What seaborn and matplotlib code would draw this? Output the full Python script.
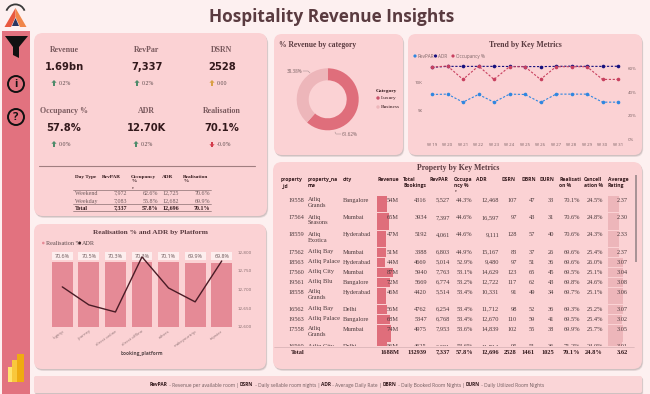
import matplotlib
matplotlib.use("Agg")
import matplotlib.pyplot as plt
from matplotlib.patches import FancyBboxPatch, Polygon, Circle, Rectangle, Wedge
import numpy as np
import pandas as pd
import seaborn as sns

# ---------- data ----------
kpi_names = ["Revenue", "RevPar", "DSRN", "Occupancy %", "ADR", "Realisation"]
kpi_values = ["1.69bn", "7,337", "2528", "57.8%", "12.70K", "70.1%"]
kpi_deltas = ["0.2%", "0.2%", "0.00", "0.0%", "0.2%", "-0.0%"]
kpi_dirs = ["up", "up", "flat", "up", "up", "down"]

day_header = ["Day Type", "RevPAR", "Occupancy\n%", "ADR", "Realisation\n%"]
day_rows = [["Weekend", "7,972", "62.6%", "12,725", "70.6%"],
            ["Weekday", "7,083", "55.8%", "12,682", "69.9%"],
            ["Total", "7,337", "57.8%", "12,696", "70.1%"]]

categories = ["Luxury", "Business"]
category_share = [61.62, 38.38]

weeks = ["W 19", "W 20", "W 21", "W 22", "W 23", "W 24", "W 25", "W 26", "W 27", "W 28", "W 29", "W 30", "W 31"]
revpar = [7880, 7940, 6530, 7880, 6530, 7940, 7880, 6470, 7940, 7940, 7940, 6530, 6530]
adr = [12650, 12820, 12820, 12820, 12820, 12800, 12790, 12780, 12820, 12860, 12820, 12820, 12840]
occupancy = [61.4, 62.3, 50.9, 62.3, 50.9, 61.7, 61.7, 50.9, 61.7, 61.7, 61.7, 50.9, 50.9]

platforms = ["logtrip", "journey", "direct online", "direct offline", "others", "makeyourtrip", "tripster"]
plat_real = [70.6, 70.5, 70.3, 70.3, 70.1, 69.9, 69.8]
plat_real_labels = ["70.6%", "70.5%", "70.3%", "70.3%", "70.1%", "69.9%", "69.8%"]
plat_adr = [12707, 12659, 12640, 12787, 12704, 12667, 12776]

prop_header = ["property\n_id", "property_na\nme", "city", "Revenue", "Total\nBookings", "RevPAR",
               "Occupa\nncy %", "ADR", "DSRN", "DBRN", "DURN", "Realisati\non %", "Cancell\nation %",
               "Average\nRating"]
prop_id = ["19558", "17564", "18559", "17562", "18563", "17560", "19561", "18558", "16562", "19563", "17558", "16560"]
prop_name = ["Atliq\nGrands", "Atliq\nSeasons", "Atliq\nExotica", "Atliq Bay", "Atliq Palace", "Atliq City",
             "Atliq Blu", "Atliq\nGrands", "Atliq Bay", "Atliq Palace", "Atliq\nGrands", "Atliq City"]
prop_city = ["Bangalore", "Mumbai", "Hyderabad", "Mumbai", "Hyderabad", "Mumbai", "Bangalore", "Hyderabad",
             "Delhi", "Bangalore", "Mumbai", "Delhi"]
prop_rev = [54, 65, 47, 51, 44, 87, 72, 46, 56, 68, 74, 56]
prop_book = [4316, 3934, 5192, 3388, 4669, 5940, 5669, 4420, 4762, 5347, 4975, 4625]
prop_revpar = ["5,527", "7,397", "4,061", "6,803", "5,014", "7,763", "6,774", "5,514", "6,254", "6,768", "7,953", "6,281"]
prop_occ = ["44.3%", "44.6%", "44.6%", "44.9%", "52.9%", "53.1%", "53.2%", "53.4%", "53.4%", "53.4%", "53.6%", "53.6%"]
prop_adr = ["12,468", "16,597", "9,111", "15,167", "9,480", "14,629", "12,722", "10,331", "11,712", "12,670", "14,839", "11,714"]
prop_dsrn = [107, 97, 128, 83, 97, 123, 117, 91, 98, 110, 102, 95]
prop_dbrn = [47, 43, 57, 37, 51, 65, 62, 49, 52, 59, 55, 51]
prop_durn = [33, 31, 40, 26, 36, 45, 43, 34, 36, 41, 38, 36]
prop_real = ["70.1%", "70.6%", "70.6%", "69.6%", "69.6%", "69.5%", "69.8%", "69.7%", "69.3%", "69.5%", "69.9%", "71.2%"]
prop_canc = ["24.5%", "24.8%", "24.3%", "25.4%", "26.0%", "25.1%", "24.6%", "25.1%", "25.2%", "25.4%", "25.7%", "24.0%"]
prop_rating = [2.37, 2.30, 2.33, 2.37, 3.07, 3.04, 3.08, 3.06, 3.07, 3.02, 3.05, 3.01]
prop_total = ["Total", "", "", "1688M", "132939", "7,337", "57.8%", "12,696", "2528", "1461", "1025", "70.1%", "24.8%", "3.62"]

footer_parts = [("RevPAR", True), (" - Revenue per available room | ", False), ("DSRN", True),
                (" - Daily sellable room nights | ", False), ("ADR", True), (" - Average Daily Rate | ", False),
                ("DBRN", True), (" - Daily Booked Room Nights | ", False), ("DURN", True),
                (" - Daily Utilized Room Nights", False)]

# ---------- style ----------
W, H = 650, 394
BG = "#FDF0F0"
PANEL = "#FBD2D4"
SIDE = "#E2727F"
DARK = "#5A3B40"
SERIF = "Liberation Serif"
SANS = "Open Sans"
sns.set_theme(style="white", rc={"axes.facecolor": "none", "figure.facecolor": BG})

fig = plt.figure(figsize=(W / 100, H / 100), dpi=100, facecolor=BG)


def axpx(x0, y0, x1, y1, **kw):
    a = fig.add_axes([x0 / W, 1 - y1 / H, (x1 - x0) / W, (y1 - y0) / H], **kw)
    a.patch.set_alpha(0)
    return a


bg = axpx(0, 0, W, H)
bg.set_xlim(0, W)
bg.set_ylim(H, 0)
bg.axis("off")


def panel(x0, y0, x1, y1, r=8, fc=PANEL):
    for off, al in ((2.0, .14), (1.2, .24)):
        bg.add_patch(FancyBboxPatch((x0 + r + off * .6, y0 + r + off), x1 - x0 - 2 * r, y1 - y0 - 2 * r,
                                    boxstyle=f"round,pad={r},rounding_size={r}", fc="#7d6a6c", ec="none", alpha=al))
    bg.add_patch(FancyBboxPatch((x0 + r, y0 + r), x1 - x0 - 2 * r, y1 - y0 - 2 * r,
                                boxstyle=f"round,pad={r},rounding_size={r}", fc=fc, ec="none"))


# sidebar and icons
bg.add_patch(Rectangle((2, 31), 28, H - 31, fc=SIDE, ec="none"))
bg.add_patch(Polygon([(5, 36), (28, 36), (19, 47), (19, 58), (13, 55), (13, 47)], fc="#111111", ec="none"))
for cy, ch in ((84, "i"), (117, "?")):
    bg.add_patch(Circle((16, cy), 8, fc="none", ec="#111111", lw=1.4))
    bg.text(16, cy + .3, ch, ha="center", va="center", fontsize=8, fontweight="bold", color="#111111", family=SANS)
# brand logo
bg.add_patch(Wedge((15.5, 14), 10.5, 200, 340, width=1.8, fc="#3a3a3a", ec="none"))
bg.add_patch(Polygon([(15.5, 8), (4.5, 27), (11, 27), (15.5, 17)], fc="#E8583F", ec="none"))
bg.add_patch(Polygon([(15.5, 8), (26.5, 27), (20, 27), (15.5, 17)], fc="#F0864A", ec="none"))
bg.add_patch(Polygon([(15.5, 18), (12, 26), (19, 26)], fc="#2A3560", ec="none"))
# report icon
bg.add_patch(Rectangle((8, 367), 7, 15, fc="#FFE36E", ec="none"))
bg.add_patch(Rectangle((12, 360), 8, 22, fc="#F9C83C", ec="none"))
bg.add_patch(Rectangle((17, 354), 7, 28, fc="#EFAB12", ec="none"))

# title
bg.text(332, 17, "Hospitality Revenue Insights", ha="center", va="center", fontsize=12.4, fontweight="bold",
        family=SANS, color=DARK)

# panels
panel(34, 33, 267, 216, r=9)
panel(274, 34, 403, 155)
panel(408, 34, 642, 155)
panel(34, 224, 266, 369)
panel(273, 162, 642, 369, r=9)
panel(34, 376, 642, 393, r=2, fc="#FAD5D7")

# ---------- KPI cards ----------
kx = [64, 147, 222, 64, 146, 222]
ky = [50, 50, 50, 111, 111, 111]
arrow_col = {"up": "#4E8B6B", "flat": "#D9A045", "down": "#D23B4B"}
for i, name in enumerate(kpi_names):
    bg.text(kx[i], ky[i], name, ha="center", va="center", family=SERIF, fontsize=5.7, fontweight="bold", color="#7A5A5E")
    bg.text(kx[i], ky[i] + 17, kpi_values[i], ha="center", va="center", family="DejaVu Sans", fontsize=7.2,
            fontweight="bold", color="#33191C")
    ax_, ay_ = kx[i] - 10, ky[i] + 33
    d = -1 if kpi_dirs[i] != "down" else 1
    c = arrow_col[kpi_dirs[i]]
    bg.add_patch(Polygon([(ax_ - 2.6, ay_ + .3 * d), (ax_ + 2.6, ay_ + .3 * d), (ax_, ay_ + 3 * d)], fc=c, ec="none"))
    bg.add_patch(Rectangle((ax_ - .8, ay_ - 2.5), 1.6, 5.5, fc=c, ec="none"))
    bg.text(ax_ + 5, ay_, kpi_deltas[i], ha="left", va="center", family=SERIF, fontsize=4.2, color="#5b4a4c")

bg.plot([39, 255], [166, 166], color="#A07E80", lw=.8)

# small table
hx = [75, 102, 131, 162, 183]
for x, t in zip(hx, day_header):
    bg.text(x, 174.5, t, ha="left", va="top", family=SERIF, fontsize=3.8, fontweight="bold", color="#33191C", linespacing=1.15)
bg.text(132.5, 188, "▾", ha="center", va="center", fontsize=2.5, color="#33191C")
rx = [None, 127, 158, 179, 210]
ry = [193, 201, 208]
for r, row in enumerate(day_rows):
    bold = row[0] == "Total"
    for c, t in enumerate(row):
        bg.text(75 if c == 0 else rx[c], ry[r], t, ha="left" if c == 0 else "right", va="center", family=SERIF,
                fontsize=4.3, fontweight="bold" if bold else "normal", color="#33191C" if bold else "#6f5a5c")
for y in (189.5, 204, 211):
    bg.plot([73, 211], [y, y], color="#8a7072", lw=.5)

# ---------- donut ----------
bg.text(279, 45, "% Revenue by category", ha="left", va="center", family=SERIF, fontsize=5.5, fontweight="bold", color=DARK)
dax = axpx(327.7 - 40, 99.3 - 40, 327.7 + 40, 99.3 + 40)
dax.pie(category_share, colors=["#DF6E7B", "#EDB6BA"], startangle=90, counterclock=False, radius=31 / 40,
        wedgeprops=dict(width=12 / 40, edgecolor="none", linewidth=0))
dax.set_xlim(-1, 1)
dax.set_ylim(-1, 1)
bg.text(295, 71, f"{category_share[1]:.2f}%", ha="center", va="center", fontsize=3.3, color="#7c6466", family=SANS)
bg.text(342, 134, f"{category_share[0]:.2f}%", ha="left", va="center", fontsize=3.3, color="#7c6466", family=SANS)
bg.plot([303, 308, 310], [71, 71, 73], color="#a89092", lw=.4)
bg.plot([335, 336, 341], [132, 134, 134], color="#a89092", lw=.4)
bg.text(376, 90.5, "Category", ha="left", va="center", family=SERIF, fontsize=3.9, fontweight="bold", color="#33191C")
for y, t, col in ((98, categories[0], "#C9506A"), (107, categories[1], "#EDB6BA")):
    bg.add_patch(Circle((378, y), 1.7, fc=col, ec="none"))
    bg.text(381, y, t, ha="left", va="center", family=SERIF, fontsize=3.9, color="#33191C")

# ---------- trend ----------
bg.text(525, 45, "Trend by Key Metrics", ha="center", va="center", family=SERIF, fontsize=5.6, fontweight="bold", color=DARK)
trend = pd.DataFrame({"week": weeks, "RevPAR": revpar, "ADR": adr, "Occupancy": occupancy})
tl = axpx(424.25, 60, 625.75, 139.3)
tr = tl.twinx()
tr.patch.set_alpha(0)
COL_R, COL_A, COL_O = "#2F86E0", "#16107E", "#C8405F"
sty = dict(linestyle=(0, (2, 1.5)), lw=.8, marker="o", ms=2.6, markeredgewidth=0)
sns.lineplot(data=trend, x="week", y="RevPAR", ax=tl, color=COL_R, sort=False, **sty)
sns.lineplot(data=trend, x="week", y="ADR", ax=tl, color=COL_A, sort=False, **sty)
sns.lineplot(data=trend, x="week", y="Occupancy", ax=tr, color=COL_O, sort=False, **sty)
tl.set_xlim(-.5, 12.5)
tl.set_ylim(0, 13940)
tr.set_ylim(0, 67.4)
tl.set_yticks([5000, 10000], ["5K", "10K"])
tr.set_yticks([0, 20, 40, 60], ["0%", "20%", "40%", "60%"])
for a in (tl, tr):
    a.set_xlabel("")
    a.set_ylabel("")
    a.tick_params(length=0, labelsize=3.2, labelcolor="#7c6466")
    sns.despine(ax=a, left=True, right=True, top=True, bottom=True)
    for t in a.get_xticklabels() + a.get_yticklabels():
        t.set_family(SANS)
tl.tick_params(axis="y", pad=1)
tr.tick_params(axis="y", pad=1.5)
tl.tick_params(axis="x", pad=3)
lx = [415, 435.5, 453]
for x, t, c in zip(lx, ["RevPAR", "ADR", "Occupancy %"], [COL_R, COL_A, COL_O]):
    bg.add_patch(Circle((x, 56), 1.6, fc=c, ec="none"))
    bg.text(x + 2.5, 56, t, ha="left", va="center", fontsize=3.3, color="#7c6466", family=SANS)

# ---------- platform combo ----------
bg.text(150, 232, "Realisation % and ADR by Platform", ha="center", va="center", family=SERIF, fontsize=5.3,
        fontweight="bold", color=DARK)
bg.add_patch(Circle((43.3, 243), 1.3, fc="#E58A96", ec="none"))
bg.text(46, 243, "Realisation %", ha="left", va="center", family=SERIF, fontsize=4.4, color="#5b4a4c")
bg.add_patch(Circle((79.7, 243), 1.4, fc="#33191C", ec="none"))
bg.text(82, 243, "ADR", ha="left", va="center", family=SERIF, fontsize=4.4, color="#5b4a4c")

plat = pd.DataFrame({"platform": platforms, "real": plat_real, "adr": plat_adr})
bax = axpx(49, 252, 235, 327)
sns.barplot(data=plat, x="platform", y="real", ax=bax, color="#E58A96", saturation=1, width=.78, order=platforms,
            linewidth=0, edgecolor="none")
bax.set_ylim(0, 81.5)
bax.set_yticks([])
bax.set_xlim(-.5, 6.5)
bax.set_xlabel("")
bax.set_ylabel("")
bax.tick_params(axis="x", length=0, pad=1.5)
bax.set_xticks(range(7), platforms, rotation=35, ha="right", rotation_mode="anchor", fontsize=3.0, color="#8a7072", family=SANS)
sns.despine(ax=bax, left=True, bottom=True)
for i, t in enumerate(plat_real_labels):
    bax.add_patch(Rectangle((i - .39, 73), .78, 8.2, fc="#FDEEEE", ec="none", zorder=1.5))
    bax.text(i, 77, t, ha="center", va="center", fontsize=3.9, color="#6a5557", family=SANS)
bg.text(142, 354, "booking_platform", ha="center", va="center", family=SANS, fontsize=3.4, fontweight="bold", color="#5b4a4c")
lax = bax.twinx()
lax.patch.set_alpha(0)
sns.lineplot(data=plat, x="platform", y="adr", ax=lax, color="#4A1C26", lw=1, sort=False)
lax.set_ylim(12600, 12800)
lax.set_yticks([12600, 12650, 12700, 12750, 12800], ["12,600", "12,650", "12,700", "12,750", "12,800"])
lax.tick_params(axis="y", length=0, pad=2, labelsize=3.0, labelcolor="#8a7072")
lax.set_ylabel("")
sns.despine(ax=lax, left=True, right=True, bottom=True)

# ---------- property table ----------
bg.text(458, 168, "Property by Key Metrics", ha="center", va="center", family=SERIF, fontsize=5.6, fontweight="bold", color=DARK)
head_x = [281, 308, 343, 377, 403, 430, 454, 476, 502, 521, 539, 559, 584, 608]
right_x = [304, None, None, 399, 427, 450, 473, 499, 517, 535, 554, 580, 603, 628]
for x, t in zip(head_x, prop_header):
    bg.text(x, 176.5, t, ha="left", va="top", fontsize=3.6, fontweight="bold", color="#33191C", family=SANS, linespacing=1.35)
bg.text(455.5, 191.5, "▾", ha="center", va="center", fontsize=2.5, color="#33191C")

# rows: the height of each row follows from the number of lines of its name
ys, hs = [], []
cur = 195.5
for nm in prop_name:
    h = 17.3 if "\n" in nm else 10
    ys.append(cur)
    hs.append(h)
    cur += h

rev_ax = axpx(377, 194, 399, 346)
rev_ax.barh([y + h / 2 for y, h in zip(ys, hs)], prop_rev, height=[h - .8 for h in hs], color="#DF6E7B", linewidth=0)
rev_ax.set_xlim(0, 22 / .185)
rev_ax.set_ylim(346, 194)
rev_ax.axis("off")
rate_ax = axpx(608, 194, 630, 346)
rate_ax.barh([y + h / 2 for y, h in zip(ys, hs)], prop_rating, height=[h - .8 for h in hs], color="#EDB6BA", linewidth=0)
rate_ax.set_xlim(0, 22 / 4.8)
rate_ax.set_ylim(346, 194)
rate_ax.axis("off")

txt = axpx(0, 0, W, H)
txt.set_xlim(0, W)
txt.set_ylim(H, 0)
txt.axis("off")
clip_rect = Rectangle((274, 194), 362, 152, transform=txt.transData)
TXT = "#4b3a3c"
FS = 4.6
for i, y0 in enumerate(ys):
    yc = y0 + 4.6
    vals = [prop_id[i], None, None, f"{prop_rev[i]}M", str(prop_book[i]), prop_revpar[i], prop_occ[i], prop_adr[i],
            str(prop_dsrn[i]), str(prop_dbrn[i]), str(prop_durn[i]), prop_real[i], prop_canc[i], f"{prop_rating[i]:.2f}"]
    for v, rx_ in zip(vals, right_x):
        if v is not None:
            t = txt.text(rx_, yc, v, ha="right", va="center", family=SERIF, fontsize=FS, color=TXT)
            t.set_clip_path(clip_rect)
            t.set_clip_on(True)
    t = txt.text(308, y0 + 1.7, prop_name[i], ha="left", va="top", family=SERIF, fontsize=FS, color=TXT, linespacing=1.2)
    t.set_clip_path(clip_rect)
    t.set_clip_on(True)
    t = txt.text(343, yc, prop_city[i], ha="left", va="center", family=SERIF, fontsize=FS, color=TXT)
    t.set_clip_path(clip_rect)
    t.set_clip_on(True)

for x_r, v in zip(right_x, prop_total):
    if v == "Total":
        txt.text(291, 352, v, ha="left", va="center", family=SERIF, fontsize=FS, fontweight="bold", color="#33191C")
    elif v:
        txt.text(x_r, 352, v, ha="right", va="center", family=SERIF, fontsize=FS, fontweight="bold", color="#33191C")
txt.plot([274, 634], [346.7, 346.7], color="#c9a6a9", lw=.4)
txt.add_patch(Rectangle((635, 175), 2.2, 87, fc="#a99396", ec="none"))

# ---------- footer ----------
fig.canvas.draw()
renderer = fig.canvas.get_renderer()
x = 150
FFS = 3.55
for s, b in footer_parts:
    w_ = "bold" if b else "normal"
    txt.text(x, 385, s, ha="left", va="center", fontsize=FFS, family=SANS, fontweight=w_,
             color="#33191C" if b else "#6f5a5c")
    # spaces at the ends are measured through a stand-in pair of bars
    probe = txt.text(0, 0, "|" + s + "|", fontsize=FFS, family=SANS, fontweight=w_)
    pr = txt.text(0, 0, "||", fontsize=FFS, family=SANS, fontweight=w_)
    w = probe.get_window_extent(renderer).width - pr.get_window_extent(renderer).width
    probe.remove()
    pr.remove()
    x += w

fig.savefig("out.png", dpi=100, facecolor=BG)
